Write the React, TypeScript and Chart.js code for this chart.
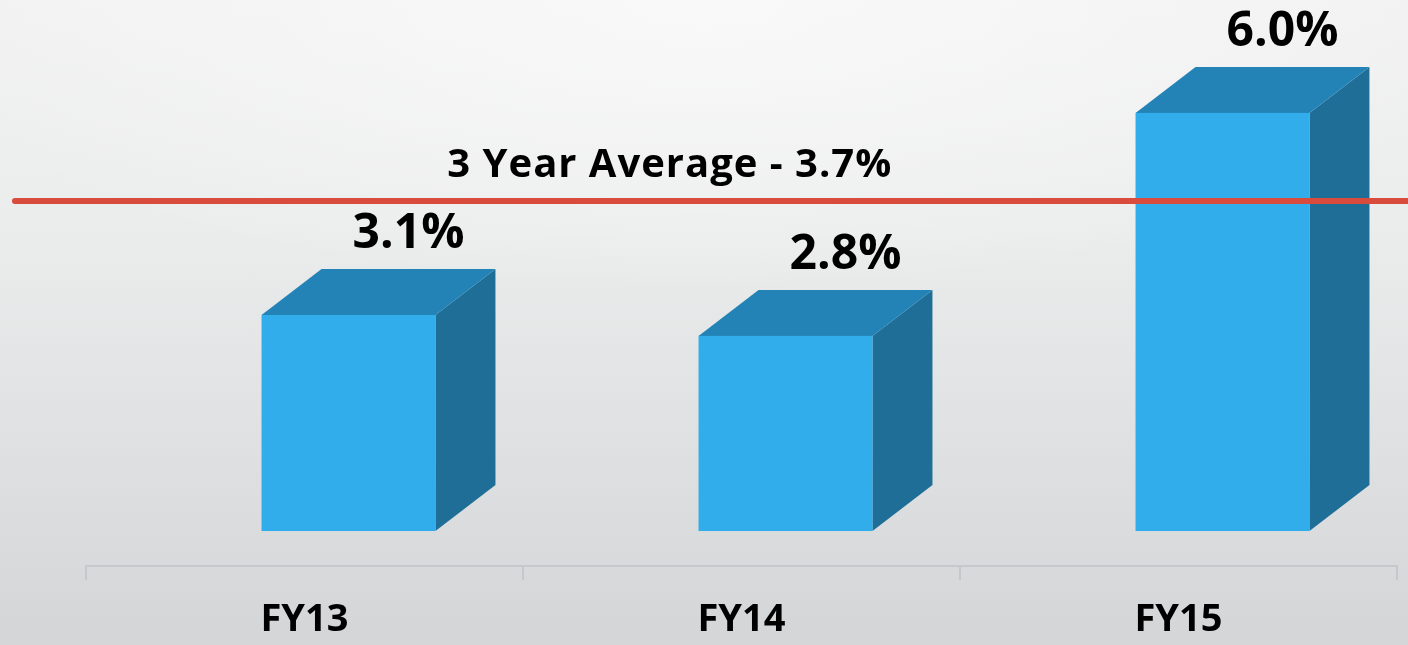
import React, { useEffect, useRef } from 'react';
import { Chart, registerables } from 'chart.js';

Chart.register(...registerables);

// ---- data ----
const categories = ['FY13', 'FY14', 'FY15'];
const growthValues = [3.1, 2.8, 6.0];
const valueLabels = ['3.1%', '2.8%', '6.0%'];
const averageValue = 3.7;
const averageLabel = '3 Year Average - 3.7%';
const averageSpan = [0, 1];

// ---- style ----
const FONT = '"Open Sans", "DejaVu Sans", sans-serif';
const FRONT = '#31adec';
const TOP = '#2383b7';
const SIDE = '#1f6e98';
const DEPTH_X = 60;
const DEPTH_Y = 46;
const SHIFT_X = 44;

const bars3d = {
  id: 'bars3d',
  beforeDatasetsDraw(chart: any) {
    const meta = chart.getDatasetMeta(0);
    const ctx = chart.ctx;
    ctx.save();
    meta.data.forEach((el: any) => {
      const { x, y, base, width } = el.getProps(['x', 'y', 'base', 'width'], true);
      const l = x - width / 2 + SHIFT_X;
      const r = x + width / 2 + SHIFT_X;
      // side
      ctx.fillStyle = SIDE;
      ctx.beginPath();
      ctx.moveTo(r, y);
      ctx.lineTo(r + DEPTH_X, y - DEPTH_Y);
      ctx.lineTo(r + DEPTH_X, base - DEPTH_Y);
      ctx.lineTo(r, base);
      ctx.closePath();
      ctx.fill();
      // top
      ctx.fillStyle = TOP;
      ctx.beginPath();
      ctx.moveTo(l, y);
      ctx.lineTo(l + DEPTH_X, y - DEPTH_Y);
      ctx.lineTo(r + DEPTH_X, y - DEPTH_Y);
      ctx.lineTo(r, y);
      ctx.closePath();
      ctx.fill();
      // front
      ctx.fillStyle = FRONT;
      ctx.fillRect(l, y, r - l, base - y);
    });
    ctx.restore();
  },
  afterDatasetsDraw(chart: any) {
    const meta = chart.getDatasetMeta(0);
    const ctx = chart.ctx;
    ctx.save();
    ctx.fillStyle = '#000';
    ctx.textAlign = 'center';
    ctx.textBaseline = 'alphabetic';
    ctx.font = `700 48px ${FONT}`;
    meta.data.forEach((el: any, i: number) => {
      const { x, y } = el.getProps(['x', 'y'], true);
      ctx.fillText(valueLabels[i], x + SHIFT_X + DEPTH_X, y - DEPTH_Y - 21);
    });
    const xs = chart.scales.xAvg;
    const ys = chart.scales.yAvg;
    ctx.font = `700 40px ${FONT}`;
    (ctx as any).letterSpacing = '1px';
    ctx.fillText(averageLabel, xs.getPixelForValue(0.47), ys.getPixelForValue(averageValue) - 24);
    ctx.restore();
  },
};

export default function App() {
  const ref = useRef<HTMLCanvasElement | null>(null);
  useEffect(() => {
    if (!ref.current) return;
    const chart = new Chart(ref.current, {
      type: 'bar',
      data: {
        labels: categories,
        datasets: [
          {
            type: 'bar',
            data: growthValues,
            backgroundColor: 'rgba(0,0,0,0)',
            barPercentage: 0.398,
            categoryPercentage: 1,
            grouped: false,
            xAxisID: 'x',
            yAxisID: 'y',
            order: 2,
          } as any,
          {
            type: 'line',
            data: averageSpan.map((x) => ({ x, y: averageValue })),
            xAxisID: 'xAvg',
            yAxisID: 'yAvg',
            borderColor: '#d94b3c',
            borderWidth: 6,
            borderCapStyle: 'round',
            pointRadius: 0,
            clip: false,
            order: 1,
          } as any,
        ],
      },
      options: {
        responsive: false,
        animation: false,
        events: [],
        layout: { padding: { left: 86, right: 11, top: 0, bottom: 0 } },
        plugins: { legend: { display: false }, tooltip: { enabled: false } },
        scales: {
          x: {
            type: 'category',
            offset: true,
            grid: {
              offset: true,
              drawOnChartArea: false,
              drawTicks: true,
              tickLength: 14,
              color: '#c6c9cb',
              lineWidth: 2,
            },
            border: { display: true, color: '#c6c9cb', width: 2 },
            ticks: {
              color: '#000',
              font: { family: FONT, size: 38, weight: 'bold' },
              padding: 17,
              maxRotation: 0,
            },
            afterFit: (s: any) => {
              s.height = 79;
            },
          },
          y: { type: 'linear', display: false, min: -0.502, max: 7.62 },
          xAvg: {
            type: 'linear',
            display: false,
            offset: false,
            min: 0.051,
            max: 0.992,
            position: 'bottom',
          },
          yAvg: { type: 'linear', display: false, min: 0, max: 5.737, position: 'left' },
        },
      } as any,
      plugins: [bars3d],
    });
    return () => chart.destroy();
  }, []);
  return (
    <div
      style={{
        position: 'absolute',
        left: 0,
        top: 0,
        width: 1408,
        height: 645,
        background:
          'radial-gradient(ellipse 60% 45% at 50% 0%, rgba(250,250,250,0.9), rgba(250,250,250,0) 100%), linear-gradient(180deg, #f1f1f1 0%, #ebecec 35%, #dfe0e1 70%, #d3d5d7 100%)',
      }}
    >
      <canvas ref={ref} width={1408} height={645} style={{ display: 'block' }} />
    </div>
  );
}
